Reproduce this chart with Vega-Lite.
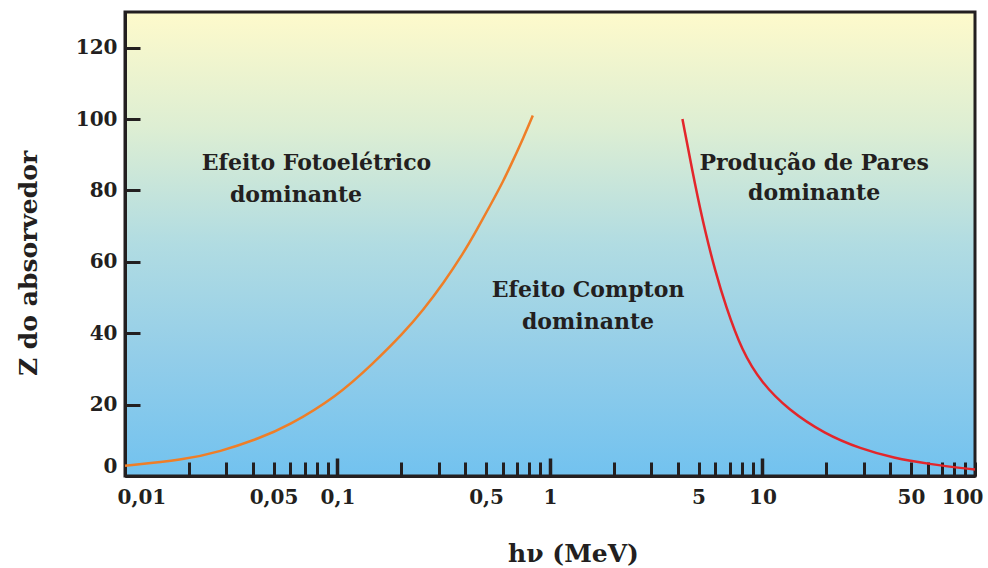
{
  "$schema": "https://vega.github.io/schema/vega-lite/v6.json",
  "width": 850,
  "height": 464,
  "autosize": {"type": "none"},
  "padding": {"left": 125, "top": 12, "right": 13, "bottom": 92},
  "background": "white",
  "config": {
    "view": {
      "fill": {"gradient": "linear", "x1": 0, "y1": 0, "x2": 0, "y2": 1,
        "stops": [
          {"offset": 0, "color": "#FEFACB"},
          {"offset": 0.25, "color": "#DDEED3"},
          {"offset": 0.5, "color": "#B1DCE2"},
          {"offset": 0.75, "color": "#92CDE9"},
          {"offset": 1, "color": "#72C2EF"}
        ]},
      "stroke": "#231F20",
      "strokeWidth": 3
    },
    "axis": {
      "domainColor": "#231F20", "domainWidth": 3,
      "tickColor": "#231F20", "tickWidth": 3,
      "labelFont": "DejaVu Serif", "labelFontWeight": "bold", "labelFontSize": 20, "labelColor": "#231F20",
      "titleFont": "DejaVu Serif", "titleFontWeight": "bold", "titleFontSize": 25, "titleColor": "#231F20",
      "grid": false, "zindex": 1
    }
  },
  "layer": [
    {
      "data": {"values": [
        {"E": 0.01, "Z": 2.9, "s": "foto"},
        {"E": 0.0188, "Z": 4.5, "s": "foto"},
        {"E": 0.028, "Z": 6.8, "s": "foto"},
        {"E": 0.043, "Z": 10.6, "s": "foto"},
        {"E": 0.0577, "Z": 13.8, "s": "foto"},
        {"E": 0.099, "Z": 22.2, "s": "foto"},
        {"E": 0.1475, "Z": 31.6, "s": "foto"},
        {"E": 0.204, "Z": 40.0, "s": "foto"},
        {"E": 0.253, "Z": 46.5, "s": "foto"},
        {"E": 0.315, "Z": 54.0, "s": "foto"},
        {"E": 0.391, "Z": 62.4, "s": "foto"},
        {"E": 0.452, "Z": 68.9, "s": "foto"},
        {"E": 0.522, "Z": 75.7, "s": "foto"},
        {"E": 0.603, "Z": 82.6, "s": "foto"},
        {"E": 0.672, "Z": 88.6, "s": "foto"},
        {"E": 0.75, "Z": 94.8, "s": "foto"},
        {"E": 0.83, "Z": 101.0, "s": "foto"},
        {"E": 4.2, "Z": 100.0, "s": "pares"},
        {"E": 4.84, "Z": 80.8, "s": "pares"},
        {"E": 5.39, "Z": 68.1, "s": "pares"},
        {"E": 6.0, "Z": 57.3, "s": "pares"},
        {"E": 6.69, "Z": 47.9, "s": "pares"},
        {"E": 8.0, "Z": 35.0, "s": "pares"},
        {"E": 9.93, "Z": 26.0, "s": "pares"},
        {"E": 13.2, "Z": 18.6, "s": "pares"},
        {"E": 19.6, "Z": 11.8, "s": "pares"},
        {"E": 29, "Z": 7.6, "s": "pares"},
        {"E": 41.6, "Z": 5.0, "s": "pares"},
        {"E": 59.6, "Z": 3.4, "s": "pares"},
        {"E": 100, "Z": 1.8, "s": "pares"}
      ]},
      "mark": {"type": "line", "strokeWidth": 2.5, "interpolate": "basis"},
      "encoding": {
        "x": {
          "field": "E", "type": "quantitative",
          "scale": {"type": "log", "domain": [0.01, 100], "nice": false},
          "axis": {
            "values": [0.01,0.02,0.03,0.04,0.05,0.06,0.07,0.08,0.09,0.1,0.2,0.3,0.4,0.5,0.6,0.7,0.8,0.9,1,2,3,4,5,6,7,8,9,10,20,30,40,50,60,70,80,90,100],
            "labelExpr": "indexof([0.01,0.05,0.1,0.5,1,5,10,50,100], datum.value) >= 0 ? replace(toString(datum.value), '.', ',') : ''",
            "tickSize": {"condition": {"test": "indexof([0.1,1,10], datum.value) >= 0", "value": -18}, "value": -14},
            "tickWidth": {"condition": {"test": "indexof([0.1,1,10], datum.value) >= 0", "value": 3.5}, "value": 3},
            "labelPadding": {"condition": {"test": "indexof([0.1,1,10], datum.value) >= 0", "value": 29}, "value": 25},
            "labelFlush": true,
            "labelFlushOffset": 8,
            "title": "hν  (MeV)",
            "titleX": 448,
            "titleY": 77,
            "titleBaseline": "middle",
            "titleAlign": "center"
          }
        },
        "y": {
          "field": "Z", "type": "quantitative",
          "scale": {"domain": [0, 130], "nice": false},
          "axis": {
            "values": [0,10,20,30,40,50,60,70,80,90,100,110,120],
            "labelExpr": "datum.value % 20 == 0 ? datum.label : ''",
            "tickSize": -15,
            "labelPadding": 23,
            "labelFlush": true,
            "title": "Z do absorvedor",
            "titleX": -97,
            "titleY": 251,
            "titleAlign": "center",
            "titleBaseline": "middle"
          }
        },
        "color": {
          "field": "s", "type": "nominal",
          "scale": {"domain": ["foto", "pares"], "range": ["#EF7E27", "#E3262B"]},
          "legend": null
        }
      }
    },
    {
      "data": {"values": [
        {"E": 0.0796, "Z": 87.7, "t": "Efeito Fotoelétrico"},
        {"E": 0.0638, "Z": 78.7, "t": "dominante"},
        {"E": 1.51, "Z": 52.1, "t": "Efeito Compton"},
        {"E": 1.51, "Z": 43.1, "t": "dominante"},
        {"E": 17.5, "Z": 87.7, "t": "Produção de Pares"},
        {"E": 17.5, "Z": 79.3, "t": "dominante"}
      ]},
      "mark": {"type": "text", "font": "DejaVu Serif", "fontWeight": "bold", "fontSize": 22, "color": "#231F20", "baseline": "middle", "align": "center"},
      "encoding": {
        "x": {"field": "E", "type": "quantitative", "scale": {"type": "log", "domain": [0.01, 100], "nice": false}},
        "y": {"field": "Z", "type": "quantitative", "scale": {"domain": [0, 130], "nice": false}},
        "text": {"field": "t"}
      }
    }
  ]
}
